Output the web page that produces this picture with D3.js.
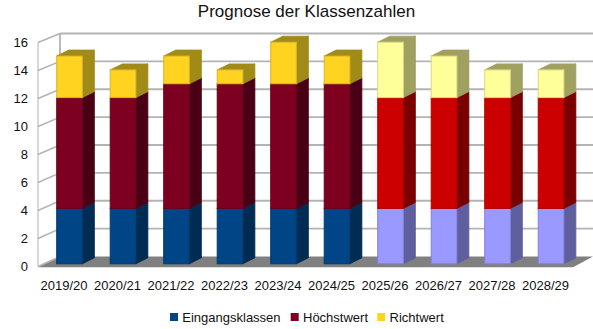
<!DOCTYPE html>
<html>
<head>
<meta charset="utf-8">
<script src="https://cdn.jsdelivr.net/npm/d3@7"></script>
<style>
  html, body { margin: 0; padding: 0; background: #fff; }
  svg { display: block; }
  text { font-family: "Liberation Sans", Arial, sans-serif; fill: #111; }
</style>
</head>
<body>
<div id="chart"></div>
<script>
// Data
const years = ["2019/20", "2020/21", "2021/22", "2022/23", "2023/24", "2024/25", "2025/26", "2026/27", "2027/28", "2028/29"];
const eingang = [4, 4, 4, 4, 4, 4, 4, 4, 4, 4];
const hoechst = [8, 8, 9, 9, 9, 9, 8, 8, 8, 8];
const richt = [3, 2, 2, 1, 3, 2, 4, 3, 2, 2];
const seriesNames = ["Eingangsklassen", "Höchstwert", "Richtwert"];
const firstForecast = "2025/26";
const yTicks = [0, 2, 4, 6, 8, 10, 12, 14, 16];

// front, side and edge colours, actual years then forecast years
const colorsActual = [
  {front: "#004586", side: "#002b53", edge: "#003a70"},
  {front: "#7e0021", side: "#4a0014", edge: "#6a001c"},
  {front: "#ffd320", side: "#a08a18", edge: "#d8b428"}
];
const colorsForecast = [
  {front: "#9999ff", side: "#5f5f9f", edge: "#8080d8"},
  {front: "#cc0000", side: "#7a0000", edge: "#ad0000"},
  {front: "#ffff99", side: "#a0a060", edge: "#d8d880"}
];

const width = 593;
const height = 329;
const margin = {left: 38, right: 20, bottom: 62.5, top: 42.5};
const barDepth = {x: 12, y: -6};   // bar depth

const svg = d3.select("#chart").append("svg")
  .attr("width", width)
  .attr("height", height);

const xScale = d3.scaleBand()
  .domain(years)
  .range([37.3, 572.3])
  .paddingInner(0.52)
  .paddingOuter(0.26);

// front edge of the left wall
const yScale = d3.scaleLinear()
  .domain([0, 16])
  .range([height - margin.bottom, margin.top]);

// back wall and bars sit further away, so they come out slightly smaller
const yBack = d3.scaleLinear().domain([0, 16]).range([256.5, 33.5]);
const yBar = d3.scaleLinear().domain([0, 16]).range([263.8, 42.2]);

const x0 = margin.left;
const x1 = width - margin.right;
const xb = x0 + 22;
const y0 = yScale(0);

svg.append("text")
  .attr("x", 306.5)
  .attr("y", 17)
  .attr("text-anchor", "middle")
  .attr("font-size", "17px")
  .text("Prognose der Klassenzahlen");

// Floor
svg.append("polygon")
  .attr("points", [[x0, y0 + 0.7], [xb, yBack(0)], [x1 + 20, yBack(0)], [x1, y0 + 0.7]].join(" "))
  .attr("fill", "#808080");

// Gridlines on left and back wall
const grid = svg.append("g").attr("fill", "none").attr("stroke", "#b3b3b3");
yTicks.forEach(t => {
  if (t > 0) {
    grid.append("line")
      .attr("x1", xb).attr("x2", x1 + 20)
      .attr("y1", yBack(t)).attr("y2", yBack(t))
      .attr("stroke-width", 1.8);
  }
  grid.append("line")
    .attr("x1", x0).attr("x2", xb)
    .attr("y1", yScale(t)).attr("y2", yBack(t))
    .attr("stroke-width", 1.5);
});
grid.append("line")
  .attr("x1", xb).attr("x2", xb)
  .attr("y1", yBack(16)).attr("y2", yBack(0))
  .attr("stroke-width", 1.8);
grid.append("line")
  .attr("x1", x0).attr("x2", x0)
  .attr("y1", yScale(16)).attr("y2", y0)
  .attr("stroke-width", 1);

// Axis labels
const yAxis = svg.append("g")
  .attr("transform", `translate(${x0}, 0)`)
  .call(d3.axisLeft(yScale).tickValues(yTicks).tickSize(0).tickPadding(10));
yAxis.select(".domain").remove();
yAxis.selectAll("text").attr("font-size", "13px").style("font-family", "'Liberation Sans'").attr("fill", "#111");

const xAxis = svg.append("g")
  .attr("transform", `translate(0, ${y0})`)
  .call(d3.axisBottom(xScale).tickSize(0).tickPadding(14.5));
xAxis.select(".domain").remove();
xAxis.selectAll("text").attr("font-size", "13px").style("font-family", "'Liberation Sans'").attr("fill", "#111");

// Bars, stacked, drawn bottom to top
const bars = svg.append("g").attr("transform", "translate(5.5, 0)");
const forecastStart = years.indexOf(firstForecast);

years.forEach((year, i) => {
  const values = [eingang[i], hoechst[i], richt[i]];
  const palette = i >= forecastStart ? colorsForecast : colorsActual;
  const left = xScale(year);
  const right = left + xScale.bandwidth();
  let sum = 0;
  values.forEach((v, s) => {
    const top = yBar(sum + v);
    const bottom = yBar(sum);
    sum += v;
    const c = palette[s];
    // side face
    bars.append("polygon")
      .attr("points", [[right, top], [right + barDepth.x, top + barDepth.y], [right + barDepth.x, bottom + barDepth.y], [right, bottom]].join(" "))
      .attr("fill", c.side).attr("stroke", c.side).attr("stroke-width", 0.8).attr("stroke-linejoin", "round");
    // top face, only the last one is visible
    if (s === values.length - 1) {
      bars.append("polygon")
        .attr("points", [[left, top], [left + barDepth.x, top + barDepth.y], [right + barDepth.x, top + barDepth.y], [right, top]].join(" "))
        .attr("fill", c.side).attr("stroke", c.side).attr("stroke-width", 0.8).attr("stroke-linejoin", "round");
    }
    // front face
    bars.append("rect")
      .attr("x", left)
      .attr("y", top)
      .attr("width", xScale.bandwidth())
      .attr("height", bottom - top)
      .attr("fill", c.front)
      .attr("stroke", c.edge)
      .attr("stroke-width", 1);
  });
});

// Legend
const legendX = d3.scaleOrdinal().domain(seriesNames).range([170, 290.7, 377.3]);
const legend = svg.selectAll(".legend")
  .data(seriesNames)
  .enter()
  .append("g")
  .attr("class", "legend")
  .attr("transform", d => `translate(${legendX(d)}, 313)`);
legend.append("rect")
  .attr("y", 0)
  .attr("width", 8)
  .attr("height", 8)
  .attr("fill", (d, i) => colorsActual[i].front);
legend.append("text")
  .attr("x", 12.3)
  .attr("y", 9)
  .attr("font-size", "13px")
  .text(d => d);
</script>
</body>
</html>
